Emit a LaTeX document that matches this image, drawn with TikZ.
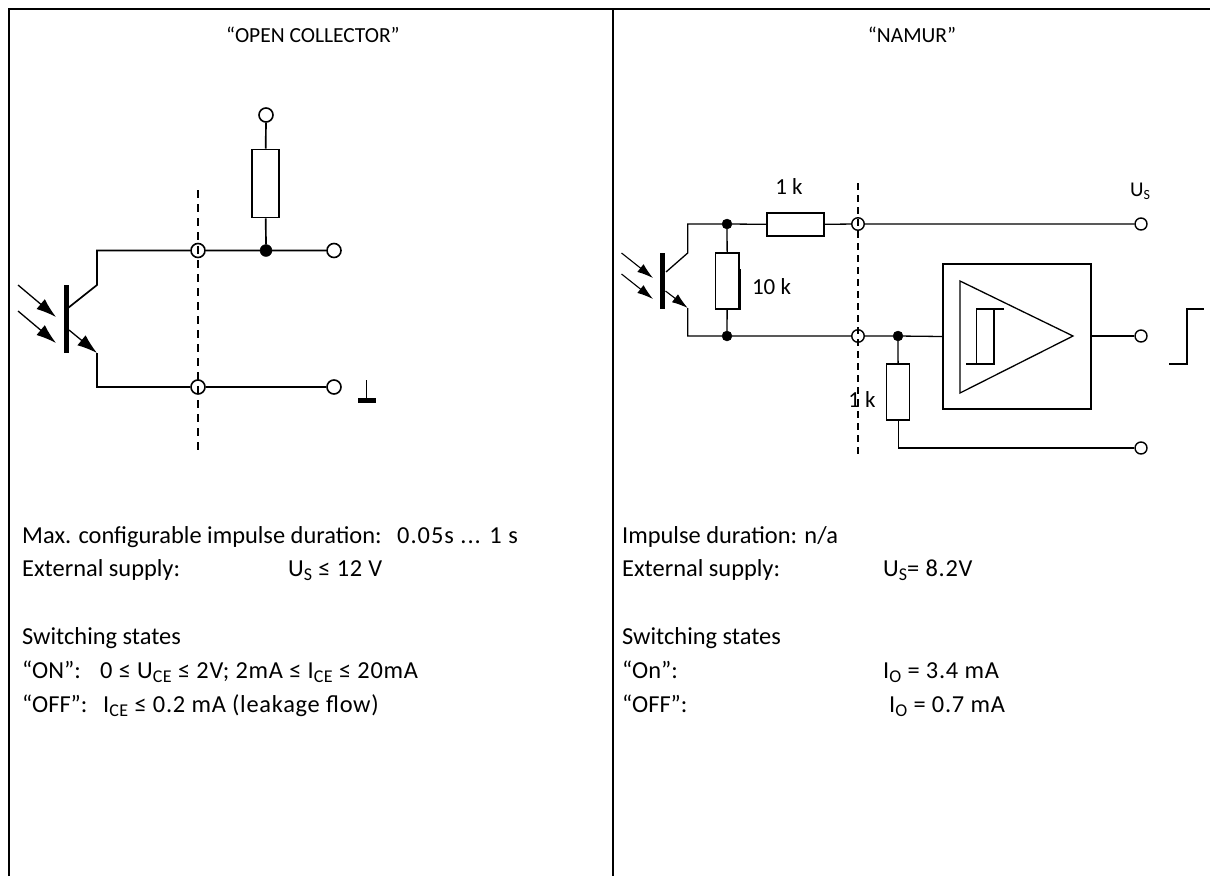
\documentclass[tikz,border=0pt]{standalone}
\usepackage{fontspec}
\usepackage{amsmath,amssymb}
\setmainfont{Carlito}
\usetikzlibrary{arrows.meta}
\newcommand{\lowsub}[1]{\raisebox{-4pt}{\fontsize{18}{18}\selectfont #1}}
\tikzset{
  wire/.style={line width=1.7pt},
  thinwire/.style={line width=1.3pt},
  cutA/.style={line width=1.7pt,dash pattern=on 8pt off 6pt},
  cutB/.style={line width=1.8pt,dash pattern=on 7pt off 5pt},
  frameline/.style={line width=2pt},
  res/.style={draw,inner sep=0pt,minimum width=#1},
  term/.style={draw,circle,line width=1.6pt,minimum size=14pt,inner sep=0pt},
  dot/.style={draw,circle,fill=black,minimum size=12pt,inner sep=0pt},
  txt/.style={anchor=base west,inner sep=0pt,font=\fontsize{24.4}{24.4}\selectfont},
  val/.style={anchor=base west,inner sep=0pt,font=\fontsize{24.4}{24.4}\selectfont\addfontfeature{LetterSpace=3}},
  ttl/.style={inner sep=0pt,font=\fontsize{21.5}{21.5}\selectfont},
  lab/.style={inner sep=0pt,font=\fontsize{23}{23}\selectfont},
  rayA/.style={line width=1.3pt,-{Latex[length=20pt,width=13pt]}},
  rayB/.style={line width=1.1pt,-{Latex[length=16pt,width=10pt]}},
}
\begin{document}
\begin{tikzpicture}[x=1pt,y=-1pt]
\useasboundingbox (0,0) rectangle (1210,876);

%frame
\coordinate (tl) at (9,9);
\coordinate (tm) at (613,9);
\coordinate (tr) at (1210,9);
\coordinate (bl) at (9,876);
\coordinate (bm) at (613,876);
\draw[frameline] (bl) -- (tl) -- (tr);
\draw[frameline] (tm) -- (bm);

\node[ttl] (titleA) at (313,35) {“OPEN COLLECTOR”};
\node[ttl] (titleB) at (912,35) {“NAMUR”};

%Open collector
\coordinate (cutAt) at (198,190);
\coordinate (cutAb) at (198,451);
\draw[cutA] (cutAt) -- (cutAb);

\node[term] (a1) at (198,250.5) {};
\node[term] (a2) at (198,387) {};
\node[dot] (a3) at (266,250.5) {};
\node[term] (a4) at (334,250.5) {};
\node[term] (a5) at (334,387) {};
\node[term] (a6) at (266,115) {};
\node[res=27pt,minimum height=68pt,line width=1.7pt] (Ra) at (265.5,183.5) {};

\coordinate (ac0) at (68,308);
\coordinate (ac1) at (97,285);
\coordinate (ac2) at (97,250.5);
\coordinate (ae0) at (69,330);
\coordinate (ae1) at (97,353);
\coordinate (ae2) at (97,387);
\coordinate (abart) at (66,285);
\coordinate (abarb) at (66,353);

\draw[line width=5pt] (abart) -- (abarb);
\draw[wire] (ac0) -- (ac1) -- (ac2) -- (a1) -- (a3) -- (a4);
\draw[wire] (a3) -- (Ra) (Ra) -- (a6);
\draw[wire] (ae1) -- (ae2) -- (a2) -- (a5);
\draw[rayA] (ae0) -- (ae1);

\coordinate (ar1) at (18,285);
\coordinate (ar2) at (56,317);
\coordinate (ar3) at (18,311);
\coordinate (ar4) at (56,343);
\draw[rayA] (ar1) -- (ar2);
\draw[rayA] (ar3) -- (ar4);

%ground
\coordinate (g1) at (366.5,380);
\coordinate (g2) at (366.5,400);
\coordinate (g3) at (358,400.5);
\coordinate (g4) at (376,400.5);
\draw[wire] (g1) -- (g2);
\draw[line width=4.5pt] (g3) -- (g4);

%Namur
\coordinate (cutBt) at (858,183);
\coordinate (cutBb) at (858,457);

\node[term,minimum size=12.5pt,line width=1.4pt] (b1) at (858,224) {};
\node[term,minimum size=12.5pt,line width=1.4pt] (b2) at (858,336) {};
\node[term,minimum size=12pt,line width=1.4pt] (b3) at (1141,224) {};
\node[term,minimum size=12pt,line width=1.4pt] (b4) at (1141,336) {};
\node[term,minimum size=12pt,line width=1.4pt] (b5) at (1141,448) {};
\node[dot,minimum size=10pt] (b6) at (727,224) {};
\node[dot,minimum size=10pt] (b7) at (727,336) {};
\node[dot,minimum size=10pt] (b8) at (898,336) {};
\node[res=57pt,minimum height=23pt,thinwire] (R1) at (795.5,224.5) {};
\node[res=23.5pt,minimum height=56pt,thinwire] (R2) at (727.3,281) {};
\node[res=23pt,minimum height=56pt,thinwire] (R3) at (898.2,392) {};
\node[draw,thinwire,minimum width=148pt,minimum height=145pt,inner sep=0pt] (amp) at (1017,336.5) {};

\coordinate (bc0) at (666,272);
\coordinate (bc1) at (687.7,253);
\coordinate (bc2) at (687.7,224);
\coordinate (be0) at (665.5,291);
\coordinate (be1) at (687.7,308);
\coordinate (be2) at (687.7,336);
\coordinate (bbart) at (662.5,253);
\coordinate (bbarb) at (662.5,309);
\coordinate (bc3) at (898,448);

\draw[line width=5pt] (bbart) -- (bbarb);
\draw[thinwire] (bc0) -- (bc1) -- (bc2) -- (b6) -- (R1) -- (b1) -- (b3);
\draw[thinwire] (be1) -- (be2) -- (b7) -- (b2) -- (b8) -- (amp.west);
\draw[thinwire] (b6) -- (R2) -- (b7);
\draw[thinwire] (b8) -- (R3);
\draw[thinwire] (R3.south) -- (R3.south |- bc3) -- (b5);
\draw[thinwire] (amp.east |- b4) -- (b4);
\draw[rayB] (be0) -- (be1);
\draw[line width=2.6pt] (R2.north east) ++(0,17) -- (R2.south east);

\coordinate (br1) at (621.5,253);
\coordinate (br2) at (653,278);
\coordinate (br3) at (621.5,274);
\coordinate (br4) at (653,299);
\draw[rayB] (br1) -- (br2);
\draw[rayB] (br3) -- (br4);

\draw[cutB] (cutBt) -- (cutBb);

%comparator
\coordinate (t1) at (960,281);
\coordinate (t2) at (1073,336);
\coordinate (t3) at (960,393);
\draw[thinwire] (t1) -- (t2) -- (t3) -- cycle;
\coordinate (h1) at (966,364);
\coordinate (h2) at (994,364);
\coordinate (h3) at (994,309);
\coordinate (h4) at (1004,309);
\coordinate (h5) at (976.6,309);
\coordinate (h6) at (976.6,364);
\draw[thinwire] (h1) -- (h2) -- (h3);
\draw[thinwire] (h4) -- (h5) -- (h6);

%step
\coordinate (s1) at (1169,364);
\coordinate (s2) at (1187,364);
\coordinate (s3) at (1187,309);
\coordinate (s4) at (1204,309);
\draw[thinwire] (s1) -- (s2) -- (s3) -- (s4);

\node[lab] (l1) at (789,187) {1 k};
\node[lab] (l2) at (771.5,287) {10 k};
\node[lab] (l3) at (862,400) {1 k};
\node[lab,font=\fontsize{21}{21}\selectfont] (l4) at (1140,191) {U\raisebox{-3pt}{\fontsize{14}{14}\selectfont S}};

%texts
\node[txt] (ta1) at (22,543) {Max. configurable impulse duration:};
\node[val,font=\fontsize{24.4}{24.4}\selectfont\addfontfeature{LetterSpace=4}] (ta1b) at (397,543) {0.05s ... 1 s};
\node[txt] (ta2) at (22,576) {External supply:};
\node[val] (ta3) at (288,576) {U\lowsub{S} ≤ 12 V};
\node[txt] (ta4) at (22,644) {Switching states};
\node[txt] (ta5) at (22,678) {“ON”:};
\node[val] (ta6) at (100,678) {0 ≤ U\lowsub{CE} ≤ 2V; 2mA ≤ I\lowsub{CE} ≤ 20mA};
\node[txt] (ta7) at (22,712) {“OFF”:};
\node[val] (ta8) at (103,712) {I\lowsub{CE} ≤ 0.2 mA (leakage flow)};

\node[txt] (tb1) at (622,543) {Impulse duration: n/a};
\node[txt] (tb2) at (622,576) {External supply:};
\node[val] (tb3) at (883,576) {U\lowsub{S}= 8.2V};
\node[txt] (tb4) at (622,644) {Switching states};
\node[txt] (tb5) at (622,678) {“On”:};
\node[val] (tb6) at (883,678) {I\lowsub{O} = 3.4 mA};
\node[txt] (tb7) at (622,712) {“OFF”:};
\node[val] (tb8) at (889,712) {I\lowsub{O} = 0.7 mA};
\end{tikzpicture}
\end{document}
